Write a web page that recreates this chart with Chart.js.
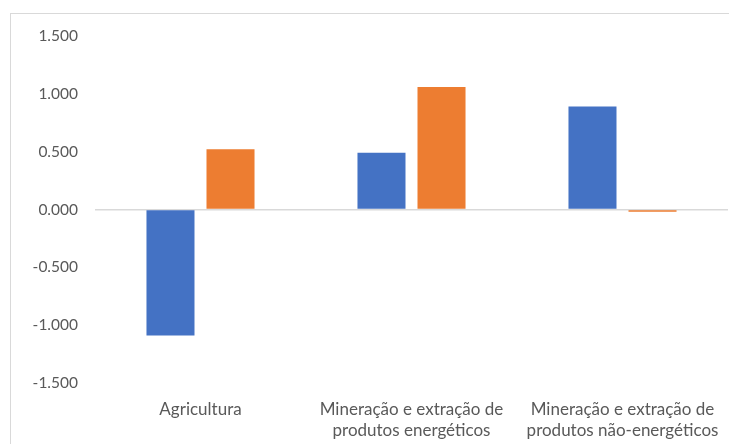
<!DOCTYPE html>
<html>
<head>
<meta charset="utf-8">
<script src="https://cdn.jsdelivr.net/npm/chart.js@4/dist/chart.umd.min.js"></script>
<style>
  html, body { margin: 0; padding: 0; background: #fff; overflow: hidden; }
  #wrap { position: relative; width: 729px; height: 444px; }
  #frame { position: absolute; left: 10px; top: 13px; width: 760px; height: 480px;
           border: 1px solid #d9d9d9; box-sizing: border-box; pointer-events: none; }
  canvas { position: absolute; left: 0; top: 0; }
</style>
</head>
<body>
<div id="wrap">
  <div id="frame"></div>
  <canvas id="chart" width="729" height="444"></canvas>
</div>
<script>
// Categorias (eixo X)
const categorias = [
  'Agricultura',
  ['Mineração e extração de', 'produtos energéticos'],
  ['Mineração e extração de', 'produtos não-energéticos']
];

// Séries
const serieAzul = [-1.09, 0.49, 0.89];
const serieLaranja = [0.52, 1.06, -0.02];

// Eixo Y
const yMin = -1.5;
const yMax = 1.5;
const yPasso = 0.5;

const familia = 'Lato, "Open Sans", sans-serif';

new Chart(document.getElementById('chart'), {
  type: 'bar',
  data: {
    labels: categorias,
    datasets: [
      { label: 'Série 1', data: serieAzul, backgroundColor: '#4472C4',
        categoryPercentage: 0.569, barPercentage: 0.8 },
      { label: 'Série 2', data: serieLaranja, backgroundColor: '#ED7D31',
        categoryPercentage: 0.569, barPercentage: 0.8 }
    ]
  },
  options: {
    responsive: false,
    animation: false,
    layout: { padding: { left: 0, right: 1, top: 36, bottom: 0 } },
    plugins: { legend: { display: false }, tooltip: { enabled: false } },
    scales: {
      x: {
        grid: { display: false, drawTicks: false },
        border: { display: false },
        ticks: { color: '#595959', font: { family: familia, size: 17, lineHeight: 1.25 },
                 padding: 16, maxRotation: 0, autoSkip: false },
        afterFit: s => { s.height = 61; s.paddingLeft = 0; s.paddingRight = 0; }
      },
      y: {
        min: yMin, max: yMax,
        border: { display: false },
        grid: {
          drawTicks: false,
          lineWidth: 1.5,
          color: c => (c.tick && c.tick.value === 0) ? '#d9d9d9' : 'rgba(0,0,0,0)'
        },
        ticks: {
          stepSize: yPasso,
          color: '#595959',
          font: { family: familia, size: 15.5 },
          padding: 17,
          callback: v => v.toFixed(3)
        },
        afterFit: s => { s.width = 95; }
      }
    }
  }
});
</script>
</body>
</html>
